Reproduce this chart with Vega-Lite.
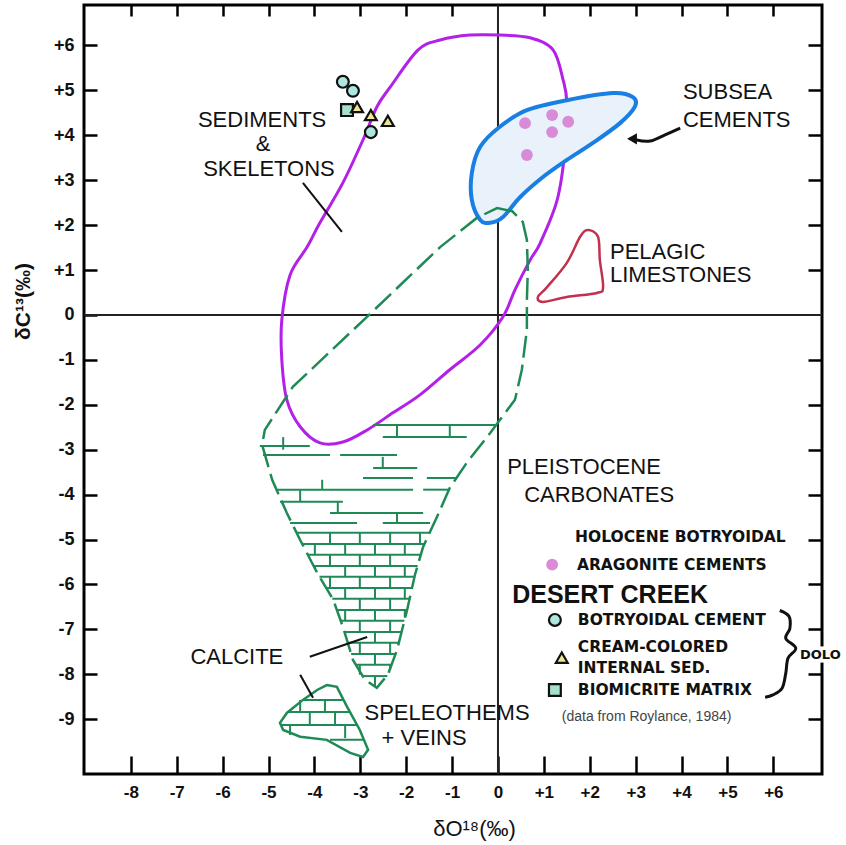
{
  "$schema": "https://vega.github.io/schema/vega-lite/v6.json",
  "width": 738,
  "height": 769,
  "autosize": {"type": "none"},
  "padding": {"left": 84, "top": 5, "right": 24, "bottom": 71},
  "background": "white",
  "config": {"view": {"stroke": "black", "strokeWidth": 3}, "font": "Liberation Sans"},
  "resolve": {"axis": {"x": "independent", "y": "independent"}},
  "layer": [
    {
      "data": {"values": [{"v": 0}]},
      "mark": {"type": "rule", "color": "#222", "strokeWidth": 2},
      "encoding": {
        "y": {"field": "v", "type": "quantitative",
          "scale": {"domain": [-10.22, 6.9], "nice": false, "zero": false},
          "axis": {"orient": "left", "values": [-9,-8,-7,-6,-5,-4,-3,-2,-1,0,1,2,3,4,5,6],
            "labelExpr": "datum.value>0?'+'+datum.value:(datum.value<0?'-'+(-datum.value):'0')",
            "ticks": true, "tickSize": 13, "tickWidth": 2.5, "tickColor": "black", "offset": -13,
            "domain": false, "grid": false,
            "labelFont": "Liberation Sans", "labelFontWeight": "bold", "labelFontSize": 18, "labelColor": "#111",
            "labelPadding": 10, "labelFlush": false, "labelOverlap": false, "labelBound": false,
            "title": "δC¹³(‰)", "titleFont": "Liberation Sans", "titleFontSize": 21, "titleFontWeight": "bold",
            "titleColor": "#111", "titleAngle": -90, "titleX": -74, "titleY": 296, "titleAlign": "center", "titleBaseline": "middle"}}
      }
    },
    {
      "data": {"values": [{"v": 0}]},
      "mark": {"type": "rule", "color": "#222", "strokeWidth": 2},
      "encoding": {
        "x": {"field": "v", "type": "quantitative",
          "scale": {"domain": [-9.02, 7.06], "nice": false, "zero": false},
          "axis": {"orient": "bottom", "values": [-8,-7,-6,-5,-4,-3,-2,-1,0,1,2,3,4,5,6],
            "labelExpr": "datum.value>0?'+'+datum.value:(datum.value<0?'-'+(-datum.value):'0')",
            "ticks": true, "tickSize": 18, "tickWidth": 2.5, "tickColor": "black", "offset": -18,
            "domain": false, "grid": false,
            "labelFont": "Liberation Sans", "labelFontWeight": "bold", "labelFontSize": 17, "labelColor": "#111",
            "labelPadding": 10, "labelFlush": false, "labelOverlap": false, "labelBound": false,
            "title": "δO¹⁸(‰)", "titleFont": "Liberation Sans", "titleFontSize": 22, "titleFontWeight": "normal",
            "titleColor": "#111", "titleX": 390, "titleY": 72, "titleAlign": "center", "titleBaseline": "middle"}}
      }
    },
    {
      "data": {"values": [
        {"o": 1, "x": -0.61, "y": 6.23}, {"o": 2, "x": 0.04, "y": 6.23}, {"o": 3, "x": 0.70, "y": 6.17},
        {"o": 4, "x": 1.20, "y": 5.90}, {"o": 5, "x": 1.42, "y": 5.23}, {"o": 6, "x": 1.50, "y": 4.72},
        {"o": 7, "x": 1.46, "y": 3.68}, {"o": 8, "x": 1.29, "y": 2.56}, {"o": 9, "x": 0.92, "y": 1.60},
        {"o": 10, "x": 0.70, "y": 1.22}, {"o": 11, "x": 0.37, "y": 0.56}, {"o": 12, "x": 0.11, "y": -0.04},
        {"o": 13, "x": -0.39, "y": -0.67}, {"o": 14, "x": -1.05, "y": -1.22}, {"o": 15, "x": -1.70, "y": -1.78},
        {"o": 16, "x": -2.29, "y": -2.18}, {"o": 17, "x": -2.85, "y": -2.56}, {"o": 18, "x": -3.38, "y": -2.83},
        {"o": 19, "x": -3.88, "y": -2.85}, {"o": 20, "x": -4.31, "y": -2.49}, {"o": 21, "x": -4.60, "y": -1.89},
        {"o": 22, "x": -4.71, "y": -1.00}, {"o": 23, "x": -4.71, "y": -0.11}, {"o": 24, "x": -4.53, "y": 0.89},
        {"o": 25, "x": -4.16, "y": 1.51}, {"o": 26, "x": -3.88, "y": 2.05}, {"o": 27, "x": -3.38, "y": 2.94},
        {"o": 28, "x": -2.94, "y": 3.90}, {"o": 29, "x": -2.64, "y": 4.63}, {"o": 30, "x": -2.35, "y": 5.07},
        {"o": 31, "x": -1.74, "y": 5.90}, {"o": 32, "x": -1.26, "y": 6.12}
      ]},
      "mark": {"type": "line", "interpolate": "cardinal-closed", "color": "#b320e8", "strokeWidth": 3},
      "encoding": {
        "x": {"field": "x", "type": "quantitative", "scale": {"domain": [-9.02, 7.06], "nice": false, "zero": false},
          "axis": {"orient": "top", "values": [-8,-7,-6,-5,-4,-3,-2,-1,1,2,3,4,5,6], "labels": false, "domain": false, "grid": false,
            "ticks": true, "tickSize": 11, "offset": -11, "tickWidth": 2.5, "tickColor": "black", "title": null}},
        "y": {"field": "y", "type": "quantitative", "scale": {"domain": [-10.22, 6.9], "nice": false, "zero": false},
          "axis": {"orient": "right", "values": [-9,-8,-7,-6,-5,-4,-3,-2,-1,1,2,3,4,5,6], "labels": false, "domain": false, "grid": false,
            "ticks": true, "tickSize": 14, "offset": -14, "tickWidth": 2.5, "tickColor": "black", "title": null}},
        "order": {"field": "o", "type": "quantitative"}
      }
    },
    {
      "data": {"values": [
        {"o": 1, "x": 2.94, "y": 4.85}, {"o": 2, "x": 2.51, "y": 4.94}, {"o": 3, "x": 1.50, "y": 4.78},
        {"o": 4, "x": 0.63, "y": 4.56}, {"o": 5, "x": 0.04, "y": 4.19}, {"o": 6, "x": -0.39, "y": 3.74},
        {"o": 7, "x": -0.57, "y": 3.16}, {"o": 8, "x": -0.57, "y": 2.56}, {"o": 9, "x": -0.39, "y": 2.12},
        {"o": 10, "x": -0.17, "y": 2.05}, {"o": 11, "x": 0.11, "y": 2.18}, {"o": 12, "x": 0.48, "y": 2.62},
        {"o": 13, "x": 0.98, "y": 3.07}, {"o": 14, "x": 1.50, "y": 3.45}, {"o": 15, "x": 2.07, "y": 3.83},
        {"o": 16, "x": 2.66, "y": 4.27}, {"o": 17, "x": 2.98, "y": 4.63}
      ]},
      "mark": {"type": "line", "interpolate": "cardinal-closed", "color": "#1a7fe3", "strokeWidth": 4, "fill": "#e9f1fa"},
      "encoding": {
        "x": {"field": "x", "type": "quantitative", "scale": {"domain": [-9.02, 7.06], "nice": false, "zero": false}, "axis": null},
        "y": {"field": "y", "type": "quantitative", "scale": {"domain": [-10.22, 6.9], "nice": false, "zero": false}, "axis": null},
        "order": {"field": "o", "type": "quantitative"}
      }
    },
    {
      "data": {"values": [
        {"o": 1, "x": -0.02, "y": 2.38}, {"o": 2, "x": 0.31, "y": 2.31}, {"o": 3, "x": 0.54, "y": 2.07},
        {"o": 4, "x": 0.63, "y": 1.67}, {"o": 5, "x": 0.65, "y": 1.00}, {"o": 6, "x": 0.63, "y": 0.33},
        {"o": 7, "x": 0.63, "y": -0.33}, {"o": 8, "x": 0.52, "y": -1.22}, {"o": 9, "x": 0.37, "y": -1.89},
        {"o": 10, "x": 0.04, "y": -2.34}, {"o": 11, "x": -0.17, "y": -2.63}, {"o": 12, "x": -0.68, "y": -3.29},
        {"o": 13, "x": -1.05, "y": -3.85}, {"o": 14, "x": -1.33, "y": -4.50}, {"o": 15, "x": -1.63, "y": -5.16},
        {"o": 16, "x": -1.81, "y": -5.79}, {"o": 17, "x": -1.98, "y": -6.57}, {"o": 18, "x": -2.20, "y": -7.46},
        {"o": 19, "x": -2.40, "y": -8.01}, {"o": 20, "x": -2.64, "y": -8.30}, {"o": 21, "x": -2.90, "y": -8.12},
        {"o": 22, "x": -3.16, "y": -7.68}, {"o": 23, "x": -3.38, "y": -6.94}, {"o": 24, "x": -3.59, "y": -6.34},
        {"o": 25, "x": -3.94, "y": -5.74}, {"o": 26, "x": -4.31, "y": -5.01}, {"o": 27, "x": -4.60, "y": -4.41},
        {"o": 28, "x": -4.92, "y": -3.67}, {"o": 29, "x": -5.14, "y": -2.89}, {"o": 30, "x": -5.08, "y": -2.56},
        {"o": 31, "x": -4.47, "y": -1.60}, {"o": 32, "x": -3.66, "y": -0.82}, {"o": 33, "x": -2.79, "y": 0.02},
        {"o": 34, "x": -1.92, "y": 0.87}, {"o": 35, "x": -1.26, "y": 1.51}, {"o": 36, "x": -0.46, "y": 2.16}
      ]},
      "mark": {"type": "line", "interpolate": "linear-closed", "color": "#1f8a55", "strokeWidth": 2.5, "strokeDash": [22, 7]},
      "encoding": {
        "x": {"field": "x", "type": "quantitative", "scale": {"domain": [-9.02, 7.06], "nice": false, "zero": false}, "axis": null},
        "y": {"field": "y", "type": "quantitative", "scale": {"domain": [-10.22, 6.9], "nice": false, "zero": false}, "axis": null},
        "order": {"field": "o", "type": "quantitative"}
      }
    },
    {
      "data": {"values": [
        {"o": 1, "x": -3.73, "y": -8.24}, {"o": 2, "x": -3.51, "y": -8.28}, {"o": 3, "x": -3.29, "y": -8.72},
        {"o": 4, "x": -3.01, "y": -9.24}, {"o": 5, "x": -2.83, "y": -9.68}, {"o": 6, "x": -2.94, "y": -9.84},
        {"o": 7, "x": -3.22, "y": -9.75}, {"o": 8, "x": -3.73, "y": -9.46}, {"o": 9, "x": -4.31, "y": -9.39},
        {"o": 10, "x": -4.68, "y": -9.24}, {"o": 11, "x": -4.75, "y": -9.08}, {"o": 12, "x": -4.60, "y": -8.86},
        {"o": 13, "x": -4.25, "y": -8.57}, {"o": 14, "x": -3.94, "y": -8.35}
      ]},
      "mark": {"type": "line", "interpolate": "linear-closed", "color": "#1f8a55", "strokeWidth": 2.5},
      "encoding": {
        "x": {"field": "x", "type": "quantitative", "scale": {"domain": [-9.02, 7.06], "nice": false, "zero": false}, "axis": null},
        "y": {"field": "y", "type": "quantitative", "scale": {"domain": [-10.22, 6.9], "nice": false, "zero": false}, "axis": null},
        "order": {"field": "o", "type": "quantitative"}
      }
    },
    {
      "data": {"values": [
        {"x": -2.72, "x2": -0.02, "y": -2.45}, {"x": -2.51, "x2": -0.68, "y": -2.72},
        {"x": -5.19, "x2": -4.10, "y": -2.92}, {"x": -5.12, "x2": -3.66, "y": -3.12}, {"x": -3.44, "x2": -2.20, "y": -3.12},
        {"x": -2.72, "x2": -1.76, "y": -3.41}, {"x": -2.94, "x2": -1.85, "y": -3.63}, {"x": -1.55, "x2": -0.89, "y": -3.63},
        {"x": -4.81, "x2": -1.85, "y": -3.89}, {"x": -1.63, "x2": -1.05, "y": -3.89},
        {"x": -4.75, "x2": -3.38, "y": -4.16}, {"x": -3.66, "x2": -1.63, "y": -4.41},
        {"x": -4.53, "x2": -3.07, "y": -4.63}, {"x": -2.51, "x2": -1.48, "y": -4.63},
        {"x": -4.39, "x2": -1.49, "y": -4.85}, {"x": -4.27, "x2": -1.60, "y": -5.10},
        {"x": -4.15, "x2": -1.68, "y": -5.34}, {"x": -4.02, "x2": -1.75, "y": -5.59},
        {"x": -3.89, "x2": -1.82, "y": -5.83}, {"x": -3.75, "x2": -1.87, "y": -6.08},
        {"x": -3.61, "x2": -1.93, "y": -6.32}, {"x": -3.51, "x2": -1.98, "y": -6.57},
        {"x": -3.42, "x2": -2.04, "y": -6.81}, {"x": -3.34, "x2": -2.10, "y": -7.06},
        {"x": -3.27, "x2": -2.16, "y": -7.30}, {"x": -3.20, "x2": -2.23, "y": -7.55},
        {"x": -3.09, "x2": -2.32, "y": -7.79}, {"x": -2.95, "x2": -2.41, "y": -8.04},
        {"x": -4.25, "x2": -3.37, "y": -8.57}, {"x": -4.56, "x2": -3.22, "y": -8.84},
        {"x": -4.75, "x2": -3.07, "y": -9.13}, {"x": -3.66, "x2": -2.92, "y": -9.46}
      ]},
      "mark": {"type": "rule", "color": "#1f8a55", "strokeWidth": 2},
      "encoding": {
        "x": {"field": "x", "type": "quantitative", "scale": {"domain": [-9.02, 7.06], "nice": false, "zero": false}, "axis": null},
        "x2": {"field": "x2"},
        "y": {"field": "y", "type": "quantitative", "scale": {"domain": [-10.22, 6.9], "nice": false, "zero": false}, "axis": null}
      }
    },
    {
      "data": {"values": [
        {"x": -3.66, "y": -4.85, "y2": -6.23}, {"x": -3.01, "y": -4.85, "y2": -8.01},
        {"x": -2.35, "y": -4.85, "y2": -7.90}, {"x": -1.70, "y": -4.85, "y2": -5.41}
      ]},
      "mark": {"type": "rule", "color": "#1f8a55", "strokeWidth": 2, "strokeDash": [11, 11]},
      "encoding": {
        "x": {"field": "x", "type": "quantitative", "scale": {"domain": [-9.02, 7.06], "nice": false, "zero": false}, "axis": null},
        "y": {"field": "y", "type": "quantitative", "scale": {"domain": [-10.22, 6.9], "nice": false, "zero": false}, "axis": null},
        "y2": {"field": "y2"}
      }
    },
    {
      "data": {"values": [
        {"x": -3.99, "y": -4.85, "y2": -5.65}, {"x": -3.33, "y": -4.85, "y2": -7.10},
        {"x": -2.68, "y": -4.85, "y2": -8.26}, {"x": -2.03, "y": -4.85, "y2": -6.74}
      ]},
      "mark": {"type": "rule", "color": "#1f8a55", "strokeWidth": 2, "strokeDash": [11, 11], "strokeDashOffset": 11},
      "encoding": {
        "x": {"field": "x", "type": "quantitative", "scale": {"domain": [-9.02, 7.06], "nice": false, "zero": false}, "axis": null},
        "y": {"field": "y", "type": "quantitative", "scale": {"domain": [-10.22, 6.9], "nice": false, "zero": false}, "axis": null},
        "y2": {"field": "y2"}
      }
    },
    {
      "data": {"values": [
        {"x": -4.68, "y": -2.72, "y2": -3.00}, {"x": -3.83, "y": -3.67, "y2": -3.89},
        {"x": -2.51, "y": -3.16, "y2": -3.41}, {"x": -1.05, "y": -2.45, "y2": -2.72},
        {"x": -2.20, "y": -2.45, "y2": -2.72}, {"x": -3.49, "y": -4.16, "y2": -4.41},
        {"x": -2.20, "y": -4.41, "y2": -4.63}, {"x": -4.31, "y": -3.89, "y2": -4.16},
        {"x": -4.31, "y": -8.57, "y2": -8.84}, {"x": -3.77, "y": -8.57, "y2": -8.84},
        {"x": -4.10, "y": -8.84, "y2": -9.13}, {"x": -3.55, "y": -8.84, "y2": -9.13},
        {"x": -4.53, "y": -9.13, "y2": -9.35}, {"x": -3.33, "y": -9.13, "y2": -9.42}
      ]},
      "mark": {"type": "rule", "color": "#1f8a55", "strokeWidth": 2},
      "encoding": {
        "x": {"field": "x", "type": "quantitative", "scale": {"domain": [-9.02, 7.06], "nice": false, "zero": false}, "axis": null},
        "y": {"field": "y", "type": "quantitative", "scale": {"domain": [-10.22, 6.9], "nice": false, "zero": false}, "axis": null},
        "y2": {"field": "y2"}
      }
    },
    {
      "data": {"values": [
        {"o": 1, "x": 1.96, "y": 1.89}, {"o": 2, "x": 2.18, "y": 1.74}, {"o": 3, "x": 2.22, "y": 1.22},
        {"o": 4, "x": 2.29, "y": 0.62}, {"o": 5, "x": 2.16, "y": 0.49}, {"o": 6, "x": 1.50, "y": 0.40},
        {"o": 7, "x": 0.98, "y": 0.29}, {"o": 8, "x": 0.87, "y": 0.40}, {"o": 9, "x": 1.07, "y": 0.62},
        {"o": 10, "x": 1.50, "y": 1.16}, {"o": 11, "x": 1.79, "y": 1.74}
      ]},
      "mark": {"type": "line", "interpolate": "cardinal-closed", "color": "#c2304e", "strokeWidth": 2.5},
      "encoding": {
        "x": {"field": "x", "type": "quantitative", "scale": {"domain": [-9.02, 7.06], "nice": false, "zero": false}, "axis": null},
        "y": {"field": "y", "type": "quantitative", "scale": {"domain": [-10.22, 6.9], "nice": false, "zero": false}, "axis": null},
        "order": {"field": "o", "type": "quantitative"}
      }
    },
    {
      "data": {"values": [
        {"x": -4.25, "y": 2.94, "x2": -3.40, "y2": 1.85},
        {"x": -4.10, "y": -7.61, "x2": -2.85, "y2": -7.17},
        {"x": -4.31, "y": -8.01, "x2": -4.03, "y2": -8.52}
      ]},
      "mark": {"type": "rule", "color": "#111", "strokeWidth": 2},
      "encoding": {
        "x": {"field": "x", "type": "quantitative", "scale": {"domain": [-9.02, 7.06], "nice": false, "zero": false}, "axis": null},
        "y": {"field": "y", "type": "quantitative", "scale": {"domain": [-10.22, 6.9], "nice": false, "zero": false}, "axis": null},
        "x2": {"field": "x2"},
        "y2": {"field": "y2"}
      }
    },
    {
      "data": {"values": [
        {"id": "arrow", "o": 1, "x": 3.97, "y": 4.16}, {"id": "arrow", "o": 2, "x": 3.64, "y": 4.01},
        {"id": "arrow", "o": 3, "x": 3.31, "y": 3.87}, {"id": "arrow", "o": 4, "x": 3.00, "y": 3.90},
        {"id": "brace", "o": 1, "x": 6.14, "y": -6.58}, {"id": "brace", "o": 2, "x": 6.34, "y": -6.71},
        {"id": "brace", "o": 3, "x": 6.36, "y": -6.98}, {"id": "brace", "o": 4, "x": 6.27, "y": -7.20},
        {"id": "brace", "o": 5, "x": 6.49, "y": -7.42}, {"id": "brace", "o": 6, "x": 6.32, "y": -7.64},
        {"id": "brace", "o": 7, "x": 6.27, "y": -7.98}, {"id": "brace", "o": 8, "x": 6.19, "y": -8.31},
        {"id": "brace", "o": 9, "x": 5.99, "y": -8.46}, {"id": "brace", "o": 10, "x": 5.82, "y": -8.51}
      ]},
      "mark": {"type": "line", "interpolate": "cardinal", "color": "#111", "strokeWidth": 3},
      "encoding": {
        "x": {"field": "x", "type": "quantitative", "scale": {"domain": [-9.02, 7.06], "nice": false, "zero": false}, "axis": null},
        "y": {"field": "y", "type": "quantitative", "scale": {"domain": [-10.22, 6.9], "nice": false, "zero": false}, "axis": null},
        "detail": {"field": "id"},
        "order": {"field": "o", "type": "quantitative"}
      }
    },
    {
      "data": {"values": [{"x": 2.92, "y": 3.92}]},
      "mark": {"type": "point", "shape": "triangle-left", "filled": true, "color": "#111", "size": 130, "opacity": 1},
      "encoding": {
        "x": {"field": "x", "type": "quantitative", "scale": {"domain": [-9.02, 7.06], "nice": false, "zero": false}, "axis": null},
        "y": {"field": "y", "type": "quantitative", "scale": {"domain": [-10.22, 6.9], "nice": false, "zero": false}, "axis": null}
      }
    },
    {
      "data": {"values": [
        {"kind": "arag", "x": 0.59, "y": 4.27}, {"kind": "arag", "x": 1.18, "y": 4.45},
        {"kind": "arag", "x": 1.53, "y": 4.30}, {"kind": "arag", "x": 1.18, "y": 4.07},
        {"kind": "arag", "x": 0.63, "y": 3.56},
        {"kind": "botry", "x": -3.38, "y": 5.19}, {"kind": "botry", "x": -3.16, "y": 4.99},
        {"kind": "botry", "x": -2.77, "y": 4.07},
        {"kind": "biom", "x": -3.29, "y": 4.56},
        {"kind": "cream", "x": -3.07, "y": 4.63}, {"kind": "cream", "x": -2.77, "y": 4.45},
        {"kind": "cream", "x": -2.40, "y": 4.32},
        {"kind": "arag", "x": 1.18, "y": -5.56},
        {"kind": "botry", "x": 1.24, "y": -6.79},
        {"kind": "cream", "x": 1.39, "y": -7.63},
        {"kind": "biom", "x": 1.24, "y": -8.35}
      ]},
      "mark": {"type": "point", "filled": true, "size": 140, "opacity": 1, "stroke": "#111"},
      "encoding": {
        "x": {"field": "x", "type": "quantitative", "scale": {"domain": [-9.02, 7.06], "nice": false, "zero": false}, "axis": null},
        "y": {"field": "y", "type": "quantitative", "scale": {"domain": [-10.22, 6.9], "nice": false, "zero": false}, "axis": null},
        "shape": {"field": "kind", "type": "nominal", "legend": null,
          "scale": {"domain": ["arag", "botry", "cream", "biom"], "range": ["circle", "circle", "triangle-up", "square"]}},
        "fill": {"field": "kind", "type": "nominal", "legend": null,
          "scale": {"domain": ["arag", "botry", "cream", "biom"], "range": ["#d98bd8", "#aee6e0", "#efe596", "#a3e0cf"]}},
        "strokeWidth": {"condition": {"test": "datum.kind === 'arag'", "value": 0}, "value": 2.2}
      }
    },
    {
      "data": {"values": [
        {"x": -5.14, "y": 4.34, "t": "SEDIMENTS"},
        {"x": -5.12, "y": 3.80, "t": "&"},
        {"x": -4.99, "y": 3.25, "t": "SKELETONS"},
        {"x": -5.69, "y": -7.61, "t": "CALCITE"},
        {"x": -1.11, "y": -8.86, "t": "SPELEOTHEMS"},
        {"x": -1.61, "y": -9.41, "t": "+ VEINS"}
      ]},
      "mark": {"type": "text", "align": "center", "baseline": "middle", "font": "Liberation Sans", "fontSize": 22, "color": "#111"},
      "encoding": {
        "x": {"field": "x", "type": "quantitative", "scale": {"domain": [-9.02, 7.06], "nice": false, "zero": false}, "axis": null},
        "y": {"field": "y", "type": "quantitative", "scale": {"domain": [-10.22, 6.9], "nice": false, "zero": false}, "axis": null},
        "text": {"field": "t"}
      }
    },
    {
      "data": {"values": [
        {"x": 4.03, "y": 4.96, "t": "SUBSEA"},
        {"x": 4.03, "y": 4.34, "t": "CEMENTS"},
        {"x": 2.44, "y": 1.41, "t": "PELAGIC"},
        {"x": 2.44, "y": 0.89, "t": "LIMESTONES"},
        {"x": 0.20, "y": -3.38, "t": "PLEISTOCENE"},
        {"x": 0.57, "y": -4.01, "t": "CARBONATES"}
      ]},
      "mark": {"type": "text", "align": "left", "baseline": "middle", "font": "Liberation Sans", "fontSize": 22, "color": "#111"},
      "encoding": {
        "x": {"field": "x", "type": "quantitative", "scale": {"domain": [-9.02, 7.06], "nice": false, "zero": false}, "axis": null},
        "y": {"field": "y", "type": "quantitative", "scale": {"domain": [-10.22, 6.9], "nice": false, "zero": false}, "axis": null},
        "text": {"field": "t"}
      }
    },
    {
      "data": {"values": [
        {"x": 1.68, "y": -4.94, "t": "HOLOCENE BOTRYOIDAL"},
        {"x": 1.72, "y": -5.56, "t": "ARAGONITE CEMENTS"},
        {"x": 1.74, "y": -6.79, "t": "BOTRYOIDAL CEMENT"},
        {"x": 1.74, "y": -7.39, "t": "CREAM-COLORED"},
        {"x": 1.74, "y": -7.86, "t": "INTERNAL SED."},
        {"x": 1.74, "y": -8.35, "t": "BIOMICRITE MATRIX"}
      ]},
      "mark": {"type": "text", "align": "left", "baseline": "middle", "font": "DejaVu Sans", "fontWeight": "bold", "fontSize": 15.5, "color": "#111"},
      "encoding": {
        "x": {"field": "x", "type": "quantitative", "scale": {"domain": [-9.02, 7.06], "nice": false, "zero": false}, "axis": null},
        "y": {"field": "y", "type": "quantitative", "scale": {"domain": [-10.22, 6.9], "nice": false, "zero": false}, "axis": null},
        "text": {"field": "t"}
      }
    },
    {
      "data": {"values": [{"x": 6.58, "y": -7.57, "t": "DOLO"}]},
      "mark": {"type": "text", "align": "left", "baseline": "middle", "font": "DejaVu Sans", "fontWeight": "bold", "fontSize": 13, "color": "white", "stroke": "white", "strokeWidth": 7},
      "encoding": {
        "x": {"field": "x", "type": "quantitative", "scale": {"domain": [-9.02, 7.06], "nice": false, "zero": false}, "axis": null},
        "y": {"field": "y", "type": "quantitative", "scale": {"domain": [-10.22, 6.9], "nice": false, "zero": false}, "axis": null},
        "text": {"field": "t"}
      }
    },
    {
      "data": {"values": [{"x": 6.58, "y": -7.57, "t": "DOLO"}]},
      "mark": {"type": "text", "align": "left", "baseline": "middle", "font": "DejaVu Sans", "fontWeight": "bold", "fontSize": 13, "color": "#111"},
      "encoding": {
        "x": {"field": "x", "type": "quantitative", "scale": {"domain": [-9.02, 7.06], "nice": false, "zero": false}, "axis": null},
        "y": {"field": "y", "type": "quantitative", "scale": {"domain": [-10.22, 6.9], "nice": false, "zero": false}, "axis": null},
        "text": {"field": "t"}
      }
    },
    {
      "data": {"values": [{"x": 0.31, "y": -6.23, "t": "DESERT CREEK"}]},
      "mark": {"type": "text", "align": "left", "baseline": "middle", "font": "Liberation Sans", "fontWeight": "bold", "fontSize": 25, "color": "#111"},
      "encoding": {
        "x": {"field": "x", "type": "quantitative", "scale": {"domain": [-9.02, 7.06], "nice": false, "zero": false}, "axis": null},
        "y": {"field": "y", "type": "quantitative", "scale": {"domain": [-10.22, 6.9], "nice": false, "zero": false}, "axis": null},
        "text": {"field": "t"}
      }
    },
    {
      "data": {"values": [{"x": 1.39, "y": -8.95, "t": "(data from Roylance, 1984)"}]},
      "mark": {"type": "text", "align": "left", "baseline": "middle", "font": "Liberation Sans", "fontSize": 14, "color": "#444"},
      "encoding": {
        "x": {"field": "x", "type": "quantitative", "scale": {"domain": [-9.02, 7.06], "nice": false, "zero": false}, "axis": null},
        "y": {"field": "y", "type": "quantitative", "scale": {"domain": [-10.22, 6.9], "nice": false, "zero": false}, "axis": null},
        "text": {"field": "t"}
      }
    }
  ]
}
